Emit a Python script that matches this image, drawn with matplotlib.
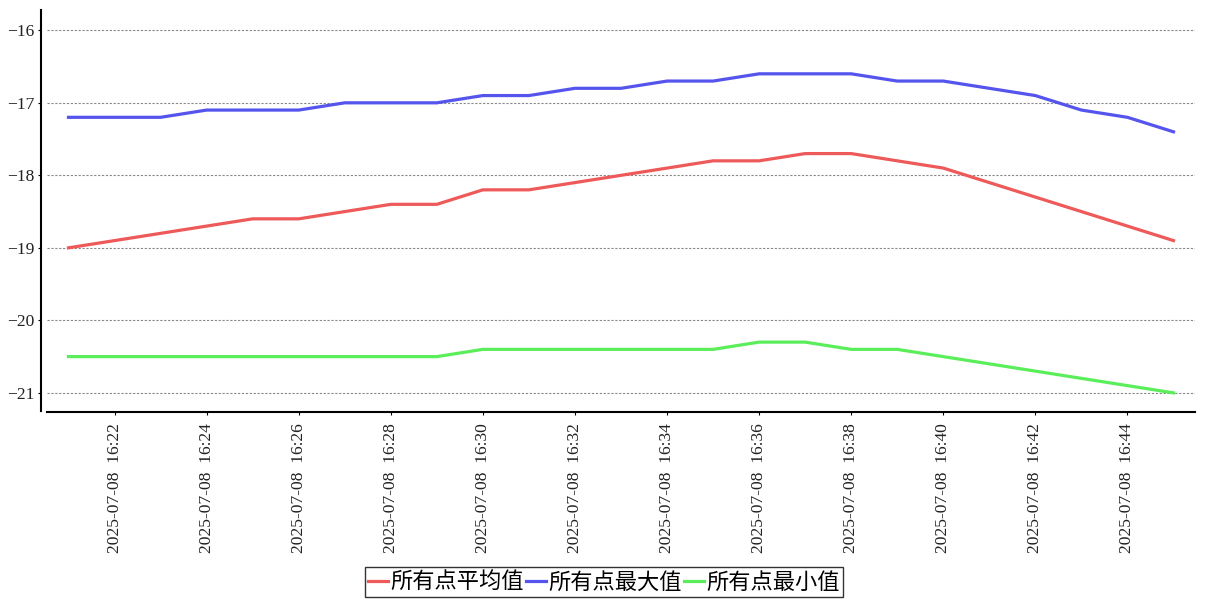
import matplotlib.pyplot as plt
import pandas as pd
from matplotlib import dates as mdates

# minute-by-minute readings, 16:21 .. 16:45
times = pd.date_range("2025-07-08 16:21", "2025-07-08 16:45", freq="1min")

avg_vals = [-19.0, -18.9, -18.8, -18.7, -18.6, -18.6, -18.5, -18.4, -18.4,
            -18.2, -18.2, -18.1, -18.0, -17.9, -17.8, -17.8, -17.7, -17.7,
            -17.8, -17.9, -18.1, -18.3, -18.5, -18.7, -18.9]
max_vals = [-17.2, -17.2, -17.2, -17.1, -17.1, -17.1, -17.0, -17.0, -17.0,
            -16.9, -16.9, -16.8, -16.8, -16.7, -16.7, -16.6, -16.6, -16.6,
            -16.7, -16.7, -16.8, -16.9, -17.1, -17.2, -17.4]
min_vals = [-20.5, -20.5, -20.5, -20.5, -20.5, -20.5, -20.5, -20.5, -20.5,
            -20.4, -20.4, -20.4, -20.4, -20.4, -20.4, -20.3, -20.3, -20.4,
            -20.4, -20.5, -20.6, -20.7, -20.8, -20.9, -21.0]

labels = ["所有点平均值", "所有点最大值", "所有点最小值"]
colors = ["#EE5A5A", "#5555EE", "#5AEE5A"]
yticks = [-21, -20, -19, -18, -17, -16]

tick_font = "Liberation Serif"
cjk_font = ["Noto Sans CJK SC", "DejaVu Sans"]

fig = plt.figure(figsize=(12.07, 6.0), dpi=100)
ax = fig.add_axes([47 / 1207, 189 / 600, 1148 / 1207, 401 / 600])

for vals, lab, col in zip([avg_vals, max_vals, min_vals], labels, colors):
    ax.plot(times, vals, color=col, linewidth=2.3, label=lab)

pad = pd.Timedelta(seconds=28)
ax.set_xlim(times[0] - pad, times[-1] + pad)
ax.set_ylim(-21.25, -15.72)
ax.set_yticks(yticks)
ax.yaxis.grid(True, linestyle=(0, (2, 1.5)), color="#888888", linewidth=0.8)

ax.xaxis.set_major_locator(mdates.MinuteLocator(byminute=range(0, 60, 2)))
ax.xaxis.set_major_formatter(mdates.DateFormatter("%Y-%m-%d  %H:%M"))
ax.tick_params(axis="x", labelrotation=90, length=2, pad=6,
               labelsize=12.6, labelfontfamily=tick_font, labelcolor="#222222")
ax.tick_params(axis="y", length=2, pad=3,
               labelsize=12.6, labelfontfamily=tick_font, labelcolor="#222222")

ax.spines["top"].set_visible(False)
ax.spines["right"].set_visible(False)
ax.spines["left"].set_position(("outward", 4))
ax.spines["bottom"].set_position(("outward", 1))
ax.spines["left"].set_linewidth(1.5)
ax.spines["bottom"].set_linewidth(1.5)

leg = fig.legend(loc="center", bbox_to_anchor=(604 / 1207, 1 - 582 / 600),
                 ncol=3, prop={"family": cjk_font, "size": 16},
                 handlelength=0.9, handletextpad=0.1, columnspacing=0.1,
                 borderpad=0.15, fancybox=False, frameon=True)
leg.get_frame().set_edgecolor("black")
leg.get_frame().set_linewidth(1.0)

fig.savefig("out.png", dpi=100)
